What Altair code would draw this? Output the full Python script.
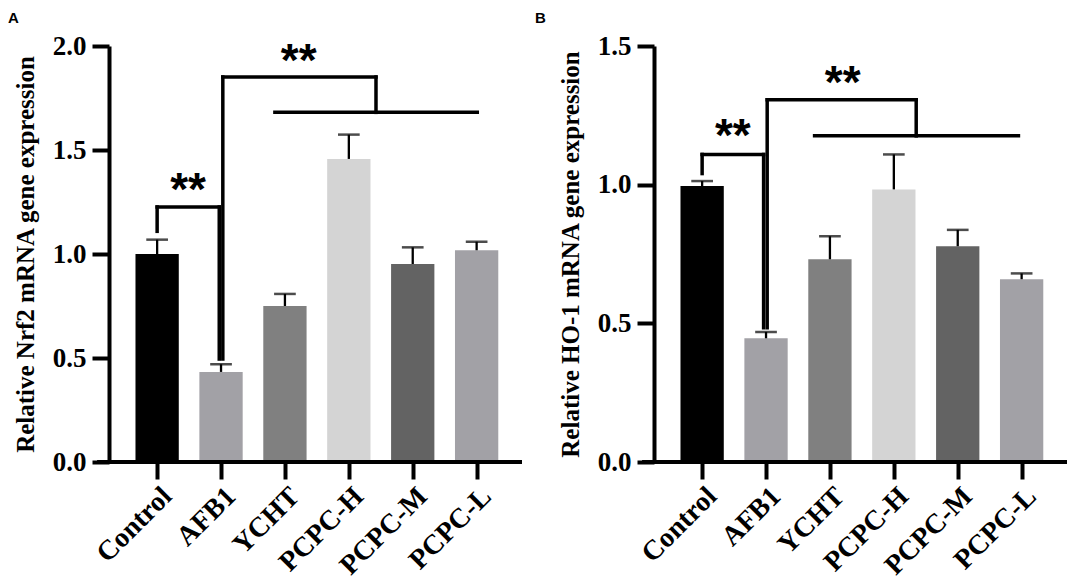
import altair as alt
import pandas as pd

categories = ["Control", "AFB1", "YCHT", "PCPC-H", "PCPC-M", "PCPC-L"]
nrf2_mean = [1.00, 0.433, 0.75, 1.457, 0.952, 1.018]
nrf2_sem = [0.069, 0.037, 0.058, 0.117, 0.080, 0.041]
ho1_mean = [0.995, 0.446, 0.731, 0.983, 0.778, 0.659]
ho1_sem = [0.018, 0.023, 0.083, 0.126, 0.059, 0.021]
bar_colors = ["#000000", "#a2a1a6", "#808080", "#d4d4d4", "#636363", "#a2a1a6"]

# significance brackets, segment end points in data units
nrf2_br_x = [0, 0, 0.972, 1.028, 1.028, 3.425, 1.843]
nrf2_br_y = [1.109, 1.226, 1.226, 0.495, 1.851, 1.851, 1.681]
nrf2_br_x2 = [0, 0.972, 0.972, 1.028, 3.425, 3.425, 5.01]
nrf2_br_y2 = [1.226, 1.226, 0.495, 1.851, 1.851, 1.681, 1.681]
nrf2_star_x = [0.485, 2.215]
nrf2_star_y = [1.349, 1.97]

ho1_br_x = [0, 0, 0.962, 1.018, 1.018, 3.35, 1.76]
ho1_br_y = [1.04, 1.109, 1.109, 0.484, 1.306, 1.306, 1.176]
ho1_br_x2 = [0, 0.962, 0.962, 1.018, 3.35, 3.35, 4.95]
ho1_br_y2 = [1.109, 1.109, 0.484, 1.306, 1.306, 1.176, 1.176]
ho1_star_x = [0.48, 2.2]
ho1_star_y = [1.207, 1.40]

star_labels = ["**", "**"]

XDOM = [-0.675, 5.71]
W, H = 418, 416
SERIF = "Liberation Serif"
label_expr = "[" + ",".join("'%s'" % c for c in categories) + "][datum.value]"


def panel(letter, letter_x, ytitle, ydom, yticks, mean, sem, bx, by, bx2, by2, sx, sy):
    df = pd.DataFrame({"idx": list(range(len(categories))), "cat": categories,
                       "mean": mean, "sem": sem})
    xs = alt.Scale(domain=XDOM, nice=False, zero=False)
    ys = alt.Scale(domain=ydom, nice=False, zero=True)
    base = alt.Chart(df).transform_calculate(upper="datum.mean + datum.sem")

    xaxis = alt.Axis(values=list(range(len(categories))), labelExpr=label_expr,
                     labelAngle=-45, labelFont=SERIF, labelFontSize=28,
                     labelFontWeight="bold", labelColor="black", labelPadding=3,
                     labelOverlap=False, labelFlush=False, labelBound=False,
                     tickSize=17, tickWidth=4, tickColor="black", domain=False,
                     grid=False, title=None)
    yaxis = alt.Axis(values=yticks, format=".1f", labelFont=SERIF, labelFontSize=27,
                     labelFontWeight="bold", labelColor="black", labelPadding=6,
                     labelOverlap=False,
                     tickSize=17, tickWidth=4, tickColor="black", domainWidth=4,
                     domainColor="black", grid=False, title=ytitle, titleFont=SERIF,
                     titleFontSize=25, titleFontWeight="bold", titleColor="black",
                     titleX=-71, titleY=H / 2)

    def X(f):
        return alt.X(f, scale=xs, axis=xaxis)

    def Y(f):
        return alt.Y(f, scale=ys, axis=yaxis)

    bars = base.mark_bar(size=43.3).encode(
        x=X("idx:Q"),
        y=Y("mean:Q"),
        color=alt.Color("cat:N", scale=alt.Scale(domain=categories, range=bar_colors),
                        legend=None),
    )
    err = base.mark_rule(strokeWidth=2.3, color="black").encode(
        x=X("idx:Q"), y=Y("mean:Q"), y2="upper:Q",
    )
    caps = base.mark_tick(orient="horizontal", size=21.7, thickness=2.5,
                          color="black").encode(x=X("idx:Q"), y=Y("upper:Q"))
    br = alt.Chart(pd.DataFrame({"x": bx, "y": by, "x2": bx2, "y2": by2})).mark_rule(
        strokeWidth=3.5, color="black", strokeCap="square").encode(
        x=X("x:Q"), y=Y("y:Q"), x2="x2:Q", y2="y2:Q",
    )
    stars = alt.Chart(pd.DataFrame({"x": sx, "y": sy, "t": star_labels})).mark_text(
        font="Liberation Sans", fontSize=46, fontWeight="bold", baseline="middle",
        dy=10, color="black").encode(x=X("x:Q"), y=Y("y:Q"), text="t:N")
    xline = alt.Chart(pd.DataFrame({"x": [-0.94], "x2": [XDOM[1]], "y": [0]})).mark_rule(
        strokeWidth=4, color="black").encode(x=X("x:Q"), x2="x2:Q", y=Y("y:Q"))
    tag = alt.Chart(pd.DataFrame({"t": [letter]})).mark_text(
        font="Liberation Sans", fontSize=15, fontWeight="bold", align="left",
        baseline="top", color="black").encode(
        x=alt.value(letter_x), y=alt.value(-35), text="t:N")
    return alt.layer(bars, err, caps, br, stars, xline, tag).properties(
        width=W, height=H)


pA = panel("A", -101, "Relative Nrf2 mRNA gene expression", [0, 2.0],
           [0, 0.5, 1.0, 1.5, 2.0],
           nrf2_mean, nrf2_sem, nrf2_br_x, nrf2_br_y, nrf2_br_x2, nrf2_br_y2,
           nrf2_star_x, nrf2_star_y)
pB = panel("B", -119, "Relative HO-1 mRNA gene expression", [0, 1.5],
           [0, 0.5, 1.0, 1.5],
           ho1_mean, ho1_sem, ho1_br_x, ho1_br_y, ho1_br_x2, ho1_br_y2,
           ho1_star_x, ho1_star_y)

chart = alt.hconcat(pA, pB, spacing=8).properties(
    padding={"left": 0, "top": 3, "right": 0, "bottom": 0}
).configure_view(stroke=None)

chart.save("out.html", embed_options={"renderer": "svg", "actions": False})
